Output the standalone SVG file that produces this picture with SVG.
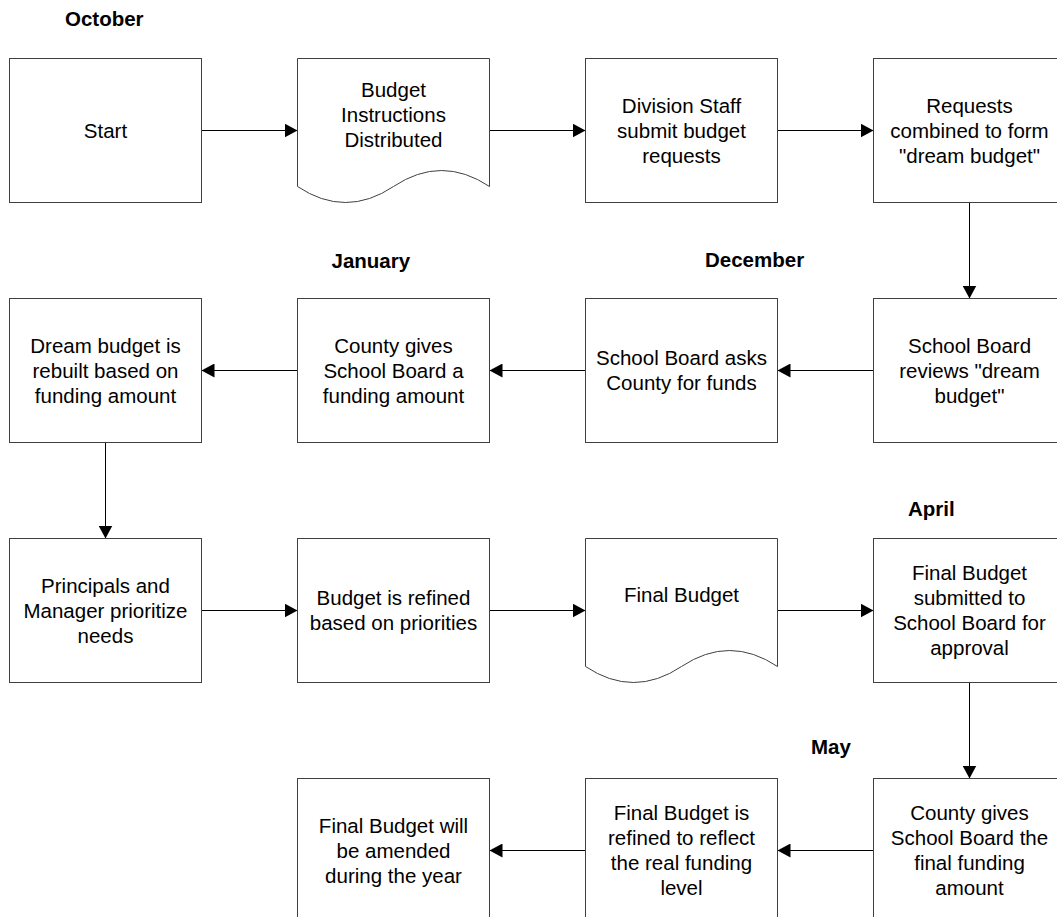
<svg xmlns="http://www.w3.org/2000/svg" width="1057" height="917" viewBox="0 0 1057 917">
  <style>
    .box { fill: #ffffff; stroke: #404040; stroke-width: 1; }
    .lbl { font-family: "Liberation Sans", Arial, sans-serif; font-size: 20.5px; fill: #000000; text-anchor: middle; }
    .month { font-family: "Liberation Sans", Arial, sans-serif; font-size: 20.5px; font-weight: bold; fill: #000000; }
    .conn { fill: none; stroke: #000000; stroke-width: 1; marker-end: url(#arrow); }
  </style>
  <defs>
    <marker id="arrow" markerUnits="userSpaceOnUse" markerWidth="14" markerHeight="14" refX="13" refY="7" orient="auto">
      <path d="M0,0 L13,7 L0,14 z" fill="#000000"/>
    </marker>
  </defs>
  <rect width="1057" height="917" fill="#ffffff"/>

  <!-- month headings -->
  <g id="months">
    <text class="month" x="65" y="26">October</text>
    <text class="month" x="331.5" y="268">January</text>
    <text class="month" x="705" y="267">December</text>
    <text class="month" x="908" y="516">April</text>
    <text class="month" x="811" y="754">May</text>
  </g>

  <!-- connectors -->
  <g id="connectors">
    <line class="conn" x1="201.5" y1="130.5" x2="297.5" y2="130.5"/>
    <line class="conn" x1="489.5" y1="130.5" x2="585.5" y2="130.5"/>
    <line class="conn" x1="777.5" y1="130.5" x2="873.5" y2="130.5"/>
    <line class="conn" x1="969.5" y1="202.5" x2="969.5" y2="298.5"/>
    <line class="conn" x1="873.5" y1="370.5" x2="777.5" y2="370.5"/>
    <line class="conn" x1="585.5" y1="370.5" x2="489.5" y2="370.5"/>
    <line class="conn" x1="297.5" y1="370.5" x2="201.5" y2="370.5"/>
    <line class="conn" x1="105.5" y1="442.5" x2="105.5" y2="538.5"/>
    <line class="conn" x1="201.5" y1="610.5" x2="297.5" y2="610.5"/>
    <line class="conn" x1="489.5" y1="610.5" x2="585.5" y2="610.5"/>
    <line class="conn" x1="777.5" y1="610.5" x2="873.5" y2="610.5"/>
    <line class="conn" x1="969.5" y1="682.5" x2="969.5" y2="778.5"/>
    <line class="conn" x1="873.5" y1="850.5" x2="777.5" y2="850.5"/>
    <line class="conn" x1="585.5" y1="850.5" x2="489.5" y2="850.5"/>
  </g>

  <!-- row 1 -->
  <g id="start">
    <rect class="box" x="9.5" y="58.5" width="192" height="144"/>
    <text class="lbl" x="105.5" y="138">Start</text>
  </g>
  <g id="instructions">
    <path class="box" d="M297.5,58.5 H489.5 V186.5 Q441.5,154.5 393.5,186.5 T297.5,186.5 Z"/>
    <text class="lbl" x="393.5" y="97">Budget</text>
    <text class="lbl" x="393.5" y="122">Instructions</text>
    <text class="lbl" x="393.5" y="147">Distributed</text>
  </g>
  <g id="division-requests">
    <rect class="box" x="585.5" y="58.5" width="192" height="144"/>
    <text class="lbl" x="681.5" y="112.5">Division Staff</text>
    <text class="lbl" x="681.5" y="137.5">submit budget</text>
    <text class="lbl" x="681.5" y="162.5">requests</text>
  </g>
  <g id="combined">
    <rect class="box" x="873.5" y="58.5" width="192" height="144"/>
    <text class="lbl" x="969.5" y="112.5">Requests</text>
    <text class="lbl" x="969.5" y="137.5">combined to form</text>
    <text class="lbl" x="969.5" y="162.5">"dream budget"</text>
  </g>

  <!-- row 2 -->
  <g id="board-reviews">
    <rect class="box" x="873.5" y="298.5" width="192" height="144"/>
    <text class="lbl" x="969.5" y="352.5">School Board</text>
    <text class="lbl" x="969.5" y="377.5">reviews "dream</text>
    <text class="lbl" x="969.5" y="402.5">budget"</text>
  </g>
  <g id="board-asks">
    <rect class="box" x="585.5" y="298.5" width="192" height="144"/>
    <text class="lbl" x="681.5" y="365">School Board asks</text>
    <text class="lbl" x="681.5" y="390">County for funds</text>
  </g>
  <g id="county-funding">
    <rect class="box" x="297.5" y="298.5" width="192" height="144"/>
    <text class="lbl" x="393.5" y="352.5">County gives</text>
    <text class="lbl" x="393.5" y="377.5">School Board a</text>
    <text class="lbl" x="393.5" y="402.5">funding amount</text>
  </g>
  <g id="rebuilt">
    <rect class="box" x="9.5" y="298.5" width="192" height="144"/>
    <text class="lbl" x="105.5" y="352.5">Dream budget is</text>
    <text class="lbl" x="105.5" y="377.5">rebuilt based on</text>
    <text class="lbl" x="105.5" y="402.5">funding amount</text>
  </g>

  <!-- row 3 -->
  <g id="prioritize">
    <rect class="box" x="9.5" y="538.5" width="192" height="144"/>
    <text class="lbl" x="105.5" y="592.5">Principals and</text>
    <text class="lbl" x="105.5" y="617.5">Manager prioritize</text>
    <text class="lbl" x="105.5" y="642.5">needs</text>
  </g>
  <g id="refined">
    <rect class="box" x="297.5" y="538.5" width="192" height="144"/>
    <text class="lbl" x="393.5" y="605">Budget is refined</text>
    <text class="lbl" x="393.5" y="630">based on priorities</text>
  </g>
  <g id="final-budget">
    <path class="box" d="M585.5,538.5 H777.5 V666.5 Q729.5,634.5 681.5,666.5 T585.5,666.5 Z"/>
    <text class="lbl" x="681.5" y="601.5">Final Budget</text>
  </g>
  <g id="submitted">
    <rect class="box" x="873.5" y="538.5" width="192" height="144"/>
    <text class="lbl" x="969.5" y="580">Final Budget</text>
    <text class="lbl" x="969.5" y="605">submitted to</text>
    <text class="lbl" x="969.5" y="630">School Board for</text>
    <text class="lbl" x="969.5" y="655">approval</text>
  </g>

  <!-- row 4 -->
  <g id="final-funding">
    <rect class="box" x="873.5" y="778.5" width="192" height="144"/>
    <text class="lbl" x="969.5" y="820">County gives</text>
    <text class="lbl" x="969.5" y="845">School Board the</text>
    <text class="lbl" x="969.5" y="870">final funding</text>
    <text class="lbl" x="969.5" y="895">amount</text>
  </g>
  <g id="real-level">
    <rect class="box" x="585.5" y="778.5" width="192" height="144"/>
    <text class="lbl" x="681.5" y="820">Final Budget is</text>
    <text class="lbl" x="681.5" y="845">refined to reflect</text>
    <text class="lbl" x="681.5" y="870">the real funding</text>
    <text class="lbl" x="681.5" y="895">level</text>
  </g>
  <g id="amended">
    <rect class="box" x="297.5" y="778.5" width="192" height="144"/>
    <text class="lbl" x="393.5" y="832.5">Final Budget will</text>
    <text class="lbl" x="393.5" y="857.5">be amended</text>
    <text class="lbl" x="393.5" y="882.5">during the year</text>
  </g>
</svg>
